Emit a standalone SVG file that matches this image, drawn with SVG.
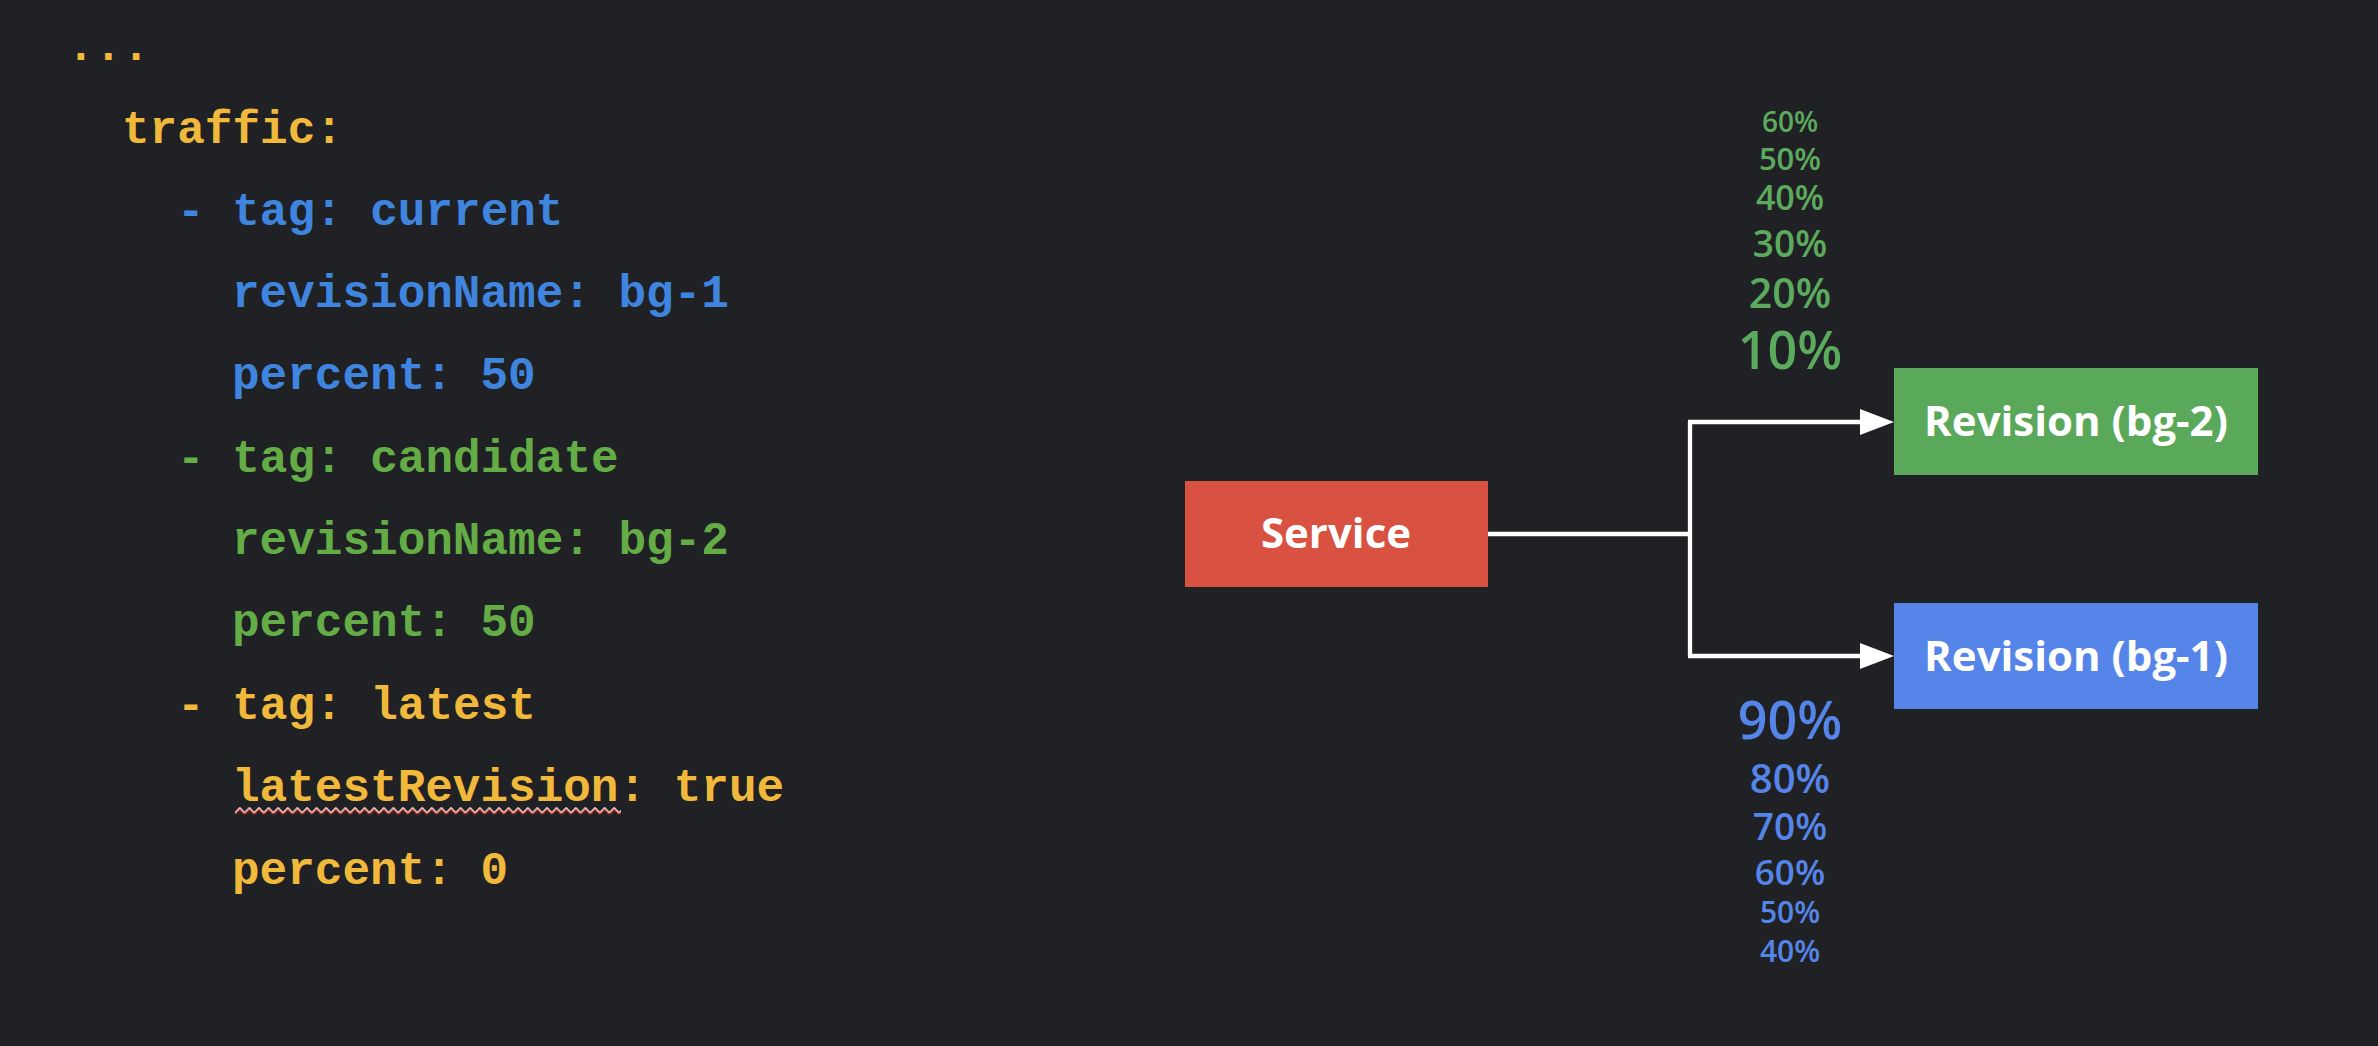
<svg xmlns="http://www.w3.org/2000/svg" width="2378" height="1046" viewBox="0 0 2378 1046">
<defs>
<style>
.code{font-family:"Liberation Mono","Courier New",monospace;font-weight:bold;font-size:46px;}
.y{fill:#F1B93C;}
.b{fill:#3F85DF;}
.g{fill:#64AD46;}
.node-label{font-family:"Open Sans","Liberation Sans",sans-serif;font-weight:bold;font-size:42px;fill:#FFFFFF;text-anchor:middle;}
.pct{font-family:"Open Sans","Liberation Sans",sans-serif;font-weight:600;text-anchor:middle;}
.pg{fill:#5CAA5E;}
.pb{fill:#5585E8;}
.conn{stroke:#FFFFFF;stroke-width:4.3;fill:none;}
</style>
<marker id="arrow" markerUnits="userSpaceOnUse" markerWidth="34" markerHeight="26" refX="2" refY="13" orient="auto">
<path d="M0,0 L34,13 L0,26 z" fill="#FFFFFF"/>
</marker>
<pattern id="zz" patternUnits="userSpaceOnUse" x="235" y="807" width="9.6" height="10">
<path d="M0,7 L4.8,2 L9.6,7" stroke="#D93A2E" stroke-width="1.8" fill="none"/>
<path d="M0,5.6 L4.8,0.6 L9.6,5.6" stroke="#F4E4E0" stroke-width="1.2" fill="none"/>
</pattern>
</defs>
<rect x="0" y="0" width="2378" height="1046" fill="#202124"/>

<g id="code">
<text class="code y" x="67" y="60">...</text>
<text class="code y" x="122" y="143">traffic:</text>
<text class="code b" x="177" y="225">- tag: current</text>
<text class="code b" x="232" y="307">revisionName: bg-1</text>
<text class="code b" x="232" y="389">percent: 50</text>
<text class="code g" x="177" y="472">- tag: candidate</text>
<text class="code g" x="232" y="554">revisionName: bg-2</text>
<text class="code g" x="232" y="636">percent: 50</text>
<text class="code y" x="177" y="719">- tag: latest</text>
<text class="code y" x="232" y="801">latestRevision: true</text>
<text class="code y" x="232" y="884">percent: 0</text>
<rect x="235" y="807" width="386" height="10" fill="url(#zz)"/>
</g>

<g id="connectors">
<path class="conn" d="M1488,534 H1690"/>
<path class="conn" d="M1690,422 V656"/>
<path class="conn" d="M1688,422 H1862" marker-end="url(#arrow)"/>
<path class="conn" d="M1688,656 H1862" marker-end="url(#arrow)"/>
</g>

<g id="service">
<rect x="1185" y="481" width="303" height="106" fill="#D95140"/>
<text class="node-label" x="1336" y="548">Service</text>
</g>

<g id="revision-bg-2">
<rect x="1894" y="368" width="364" height="107" fill="#5AA85A"/>
<text class="node-label" x="2076" y="436">Revision (bg-2)</text>
</g>

<g id="revision-bg-1">
<rect x="1894" y="603" width="364" height="106" fill="#5585E8"/>
<text class="node-label" x="2076" y="671">Revision (bg-1)</text>
</g>

<g id="green-percents">
<text class="pct pg" x="1790" y="132" font-size="28">60%</text>
<text class="pct pg" x="1790" y="170" font-size="31">50%</text>
<text class="pct pg" x="1790" y="210" font-size="34">40%</text>
<text class="pct pg" x="1790" y="257" font-size="37">30%</text>
<text class="pct pg" x="1790" y="308" font-size="41">20%</text>
<text class="pct pg" x="1790" y="369" font-size="52">10%</text>
</g>

<g id="blue-percents">
<text class="pct pb" x="1790" y="739" font-size="52">90%</text>
<text class="pct pb" x="1790" y="793" font-size="40">80%</text>
<text class="pct pb" x="1790" y="840" font-size="37">70%</text>
<text class="pct pb" x="1790" y="885" font-size="35">60%</text>
<text class="pct pb" x="1790" y="923" font-size="30">50%</text>
<text class="pct pb" x="1790" y="962" font-size="30">40%</text>
</g>
</svg>
